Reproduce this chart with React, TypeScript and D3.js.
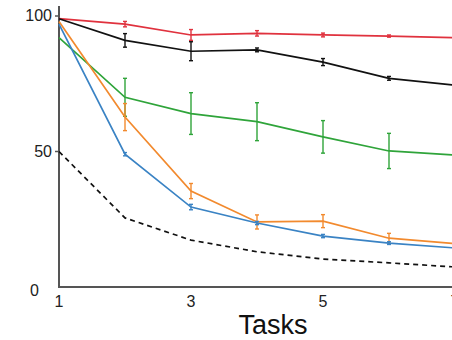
import React, { useEffect, useRef } from 'react';
import * as d3 from 'd3';

// tasks on the x axis
const tasks = [1, 2, 3, 4, 5, 6, 7];

// mean accuracy per task, one array per method
const redMean = [99, 97, 93, 93.6, 93, 92.6, 92];
const redErr = [0, 1, 2, 1, 0.7, 0.4, 0];
const blackMean = [99, 91, 87, 87.5, 83, 77, 74.5];
const blackErr = [0, 2.5, 3.5, 0.7, 1.3, 0.7, 0];
const greenMean = [92, 70, 64, 61, 55.4, 50.2, 48.7];
const greenErr = [0, 7, 7.7, 7, 6, 6.5, 0];
const orangeMean = [98, 62.7, 35.4, 24, 24.3, 18, 16];
const orangeErr = [0, 5, 2.8, 2.6, 2.4, 1.8, 0];
const blueMean = [97, 49, 29.5, 23.6, 18.8, 16.2, 14.4];
const blueErr = [0, 0.6, 1, 0.6, 0.6, 0.5, 0];
const dashedMean = [50, 25.5, 17.3, 13, 10.3, 8.9, 7.4];

const yTicks = [0, 50, 100];
const xTicks = [1, 3, 5, 7];

const width = 452;
const height = 340;

const App = () => {
  const chartRef = useRef(null);

  useEffect(() => {
    const svg = d3.select(chartRef.current);
    svg.selectAll('*').remove();

    const x = d3.scaleLinear().domain([1, 7]).range([59, 455]);
    const y = d3.scaleLinear().domain([0, 100]).range([287, 16]);

    const series = [
      { mean: redMean, err: redErr, color: '#e0323e', dash: null },
      { mean: blackMean, err: blackErr, color: '#111111', dash: null },
      { mean: greenMean, err: greenErr, color: '#2fa43a', dash: null },
      { mean: orangeMean, err: orangeErr, color: '#f28a2e', dash: null },
      { mean: blueMean, err: blueErr, color: '#3a83c4', dash: null },
      { mean: dashedMean, err: null, color: '#111111', dash: '5,4' },
    ];

    const line = d3.line<number>()
      .x((d, i) => x(tasks[i]))
      .y(d => y(d));

    // axes
    const axisColor = '#555';
    svg.append('line')
      .attr('x1', x(1)).attr('x2', x(1))
      .attr('y1', 6).attr('y2', y(0) + 1)
      .attr('stroke', axisColor).attr('stroke-width', 2);
    svg.append('line')
      .attr('x1', x(1) - 1).attr('x2', width)
      .attr('y1', y(0)).attr('y2', y(0))
      .attr('stroke', axisColor).attr('stroke-width', 2);

    svg.append('g')
      .selectAll('line')
      .data(yTicks.filter(t => t > 0))
      .join('line')
      .attr('x1', x(1) - 4).attr('x2', x(1))
      .attr('y1', d => y(d)).attr('y2', d => y(d))
      .attr('stroke', axisColor).attr('stroke-width', 1.5);

    svg.append('g')
      .selectAll('text')
      .data(yTicks)
      .join('text')
      .attr('x', d => (d === 0 ? 39 : x(1) - 7))
      .attr('y', d => y(d) + (d === 0 ? 9 : 5))
      .attr('text-anchor', 'end')
      .attr('font-family', 'Liberation Sans, Arial, sans-serif')
      .attr('font-size', 16)
      .attr('fill', '#222')
      .text(d => d);

    svg.append('g')
      .selectAll('text')
      .data(xTicks)
      .join('text')
      .attr('x', d => x(d))
      .attr('y', 307)
      .attr('text-anchor', 'middle')
      .attr('font-family', 'Liberation Sans, Arial, sans-serif')
      .attr('font-size', 16)
      .attr('fill', '#222')
      .text(d => d);

    svg.append('text')
      .attr('x', 273)
      .attr('y', 334)
      .attr('text-anchor', 'middle')
      .attr('font-family', 'Liberation Sans, Arial, sans-serif')
      .attr('font-size', 27)
      .attr('fill', '#111')
      .text('Tasks');

    // lines and error bars
    series.forEach(s => {
      svg.append('path')
        .datum(s.mean)
        .attr('d', line)
        .attr('fill', 'none')
        .attr('stroke', s.color)
        .attr('stroke-width', 1.7)
        .attr('stroke-dasharray', s.dash);

      if (s.err) {
        const g = svg.append('g').attr('stroke', s.color).attr('stroke-width', 1.4);
        s.mean.forEach((m, i) => {
          const e = s.err[i];
          if (!e) return;
          const cx = x(tasks[i]);
          g.append('line')
            .attr('x1', cx).attr('x2', cx)
            .attr('y1', y(m - e)).attr('y2', y(m + e));
          g.append('line')
            .attr('x1', cx - 2).attr('x2', cx + 2)
            .attr('y1', y(m - e)).attr('y2', y(m - e));
          g.append('line')
            .attr('x1', cx - 2).attr('x2', cx + 2)
            .attr('y1', y(m + e)).attr('y2', y(m + e));
        });
      }
    });
  });

  return (
    <div style={{ position: 'absolute', left: 0, top: 0 }}>
      <svg
        viewBox={`0, 0, ${width}, ${height}`}
        width={width}
        height={height}
        ref={chartRef}
        style={{ display: 'block', background: '#fff' }}
      />
    </div>
  );
};

export default App;
